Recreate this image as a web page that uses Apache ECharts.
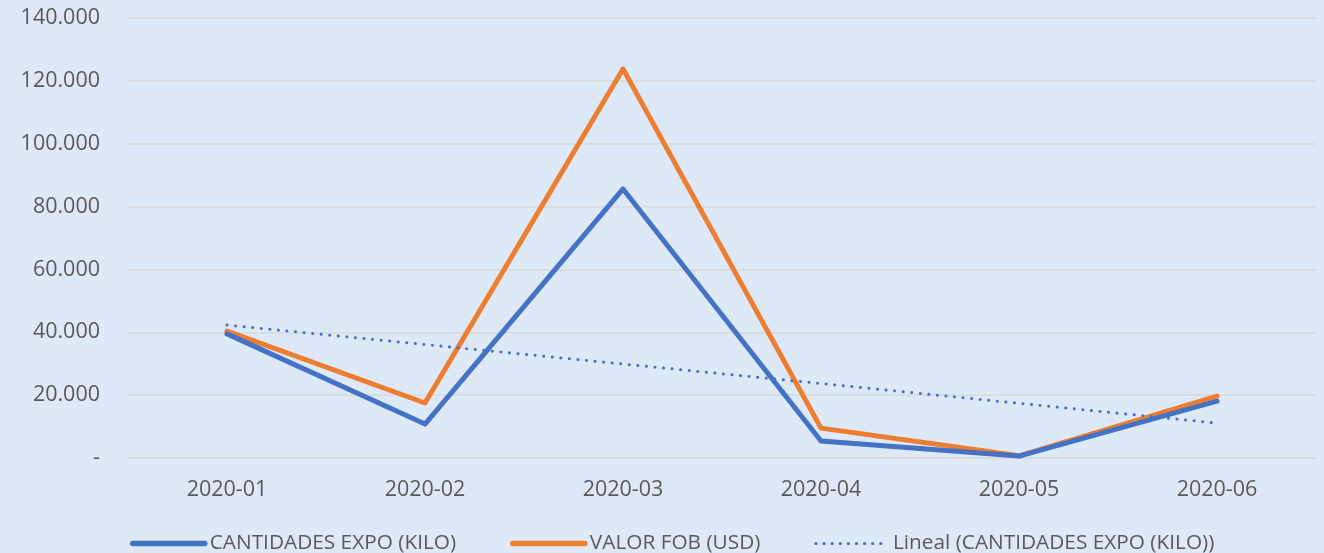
<!DOCTYPE html>
<html><head><meta charset="utf-8">
<script src="https://cdn.jsdelivr.net/npm/echarts@6/dist/echarts.min.js"></script>
<style>html,body{margin:0;padding:0;background:#DEE9F8;}#c{width:1324px;height:553px;}</style>
</head><body><div id="c"></div>
<script>
const categories = ['2020-01','2020-02','2020-03','2020-04','2020-05','2020-06'];
const cantidades = [39500, 10800, 85600, 5400, 600, 18100];
const valorFob = [40400, 17500, 123800, 9500, 700, 19700];
const lineal = [42300, 36100, 29900, 23700, 17400, 11100];
const seriesNames = ['CANTIDADES EXPO (KILO)', 'VALOR FOB (USD)', 'Lineal (CANTIDADES EXPO (KILO))'];

const font = '"Open Sans", "Liberation Sans", sans-serif';
const chart = echarts.init(document.getElementById('c'));
chart.setOption({
  backgroundColor: '#DEE9F8',
  animation: false,
  grid: {left: 128, right: 8, top: 18, bottom: 95},
  xAxis: {
    type: 'category', data: categories, boundaryGap: true,
    axisLine: {show: true, lineStyle: {color: '#D9D9D9', width: 1.5}},
    axisTick: {show: false},
    axisLabel: {color: '#595959', fontSize: 21.5, fontFamily: font, margin: 21}
  },
  yAxis: {
    type: 'value', min: 0, max: 140000, interval: 20000,
    axisLine: {show: false}, axisTick: {show: false},
    splitLine: {lineStyle: {color: '#D9D9D9', width: 1.5}},
    axisLabel: {color: '#595959', fontSize: 21.5, fontFamily: font, margin: 28,
      formatter: v => v === 0 ? '-' : (v/1000).toFixed(0) + '.000'}
  },
  legend: {
    top: 528, left: 125, itemWidth: 72, itemHeight: 24, itemGap: 54,
    textStyle: {color: '#595959', fontSize: 20.8, fontFamily: font},
    itemStyle: {opacity: 0},
    data: [
      {name: seriesNames[0], lineStyle: {width: 5.5, cap: 'round'}},
      {name: seriesNames[1], lineStyle: {width: 5.5, cap: 'round'}},
      {name: seriesNames[2], lineStyle: {width: 3.2, cap: 'round', type: [0.1, 8]}}
    ]
  },
  series: [
    {name: seriesNames[0], type: 'line', data: cantidades, symbol: 'none',
     lineStyle: {color: '#4472C4', width: 5, cap: 'round', join: 'round'}, itemStyle: {color: '#4472C4'}, z: 3},
    {name: seriesNames[1], type: 'line', data: valorFob, symbol: 'none',
     lineStyle: {color: '#ED7D31', width: 5, cap: 'round', join: 'round'}, itemStyle: {color: '#ED7D31'}, z: 2},
    {name: seriesNames[2], type: 'line', data: lineal, symbol: 'none',
     lineStyle: {color: '#4472C4', width: 3, type: [0.1, 8.5], cap: 'round'}, itemStyle: {color: '#4472C4'}, z: 4}
  ]
});
</script></body></html>
